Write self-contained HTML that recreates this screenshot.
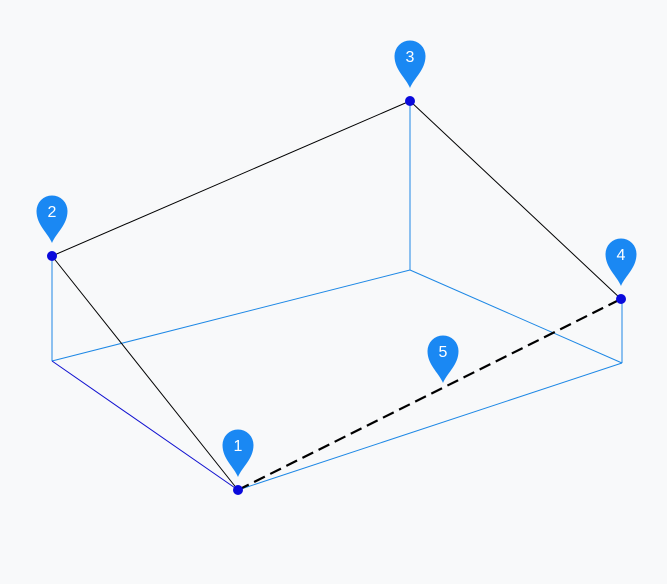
<!DOCTYPE html><html><head><style>body{margin:0;background:#f8f9fa}</style></head><body>
<svg width="667" height="579" xmlns="http://www.w3.org/2000/svg">
<defs><g id="pin"><path d="M0,32 C-4,22 -15.5,14 -15.5,0 A15.5,15.5 0 1 1 15.5,0 C15.5,14 4,22 0,32 Z" fill="#1a88f3"/></g></defs>
<g stroke="#1e88e5" stroke-width="1" fill="none">
<line x1="52" y1="256" x2="52" y2="361"/>
<line x1="238" y1="490" x2="622" y2="363"/>
<line x1="622" y1="363" x2="622" y2="299"/>
<line x1="410" y1="101" x2="410" y2="270"/>
<line x1="410" y1="270" x2="52" y2="361"/>
<line x1="410" y1="270" x2="622" y2="363"/>
</g>
<line x1="52" y1="361" x2="238" y2="490" stroke="#1010d0" stroke-width="1"/>
<g stroke="#000" stroke-width="1">
<line x1="52" y1="256" x2="410" y2="101"/>
<line x1="410" y1="101" x2="621" y2="299"/>
<line x1="52" y1="256" x2="238" y2="490"/>
</g>
<line x1="238" y1="490" x2="621" y2="299" stroke="#000" stroke-width="2.2" stroke-dasharray="12,6"/>
<g fill="#0a0adc">
<circle cx="238" cy="490" r="5"/><circle cx="52" cy="256" r="5"/><circle cx="410" cy="101" r="5"/><circle cx="621" cy="299" r="5"/>
</g>
<g font-family="Liberation Sans, sans-serif" font-size="16" fill="#fff" text-anchor="middle">
<use href="#pin" x="238" y="445"/><text x="238" y="451">1</text>
<use href="#pin" x="52" y="211"/><text x="52" y="217">2</text>
<use href="#pin" x="410" y="56"/><text x="410" y="62">3</text>
<use href="#pin" x="621" y="254"/><text x="621" y="260">4</text>
<use href="#pin" x="443" y="351"/><text x="443" y="357">5</text>
</g>
</svg></body></html>
